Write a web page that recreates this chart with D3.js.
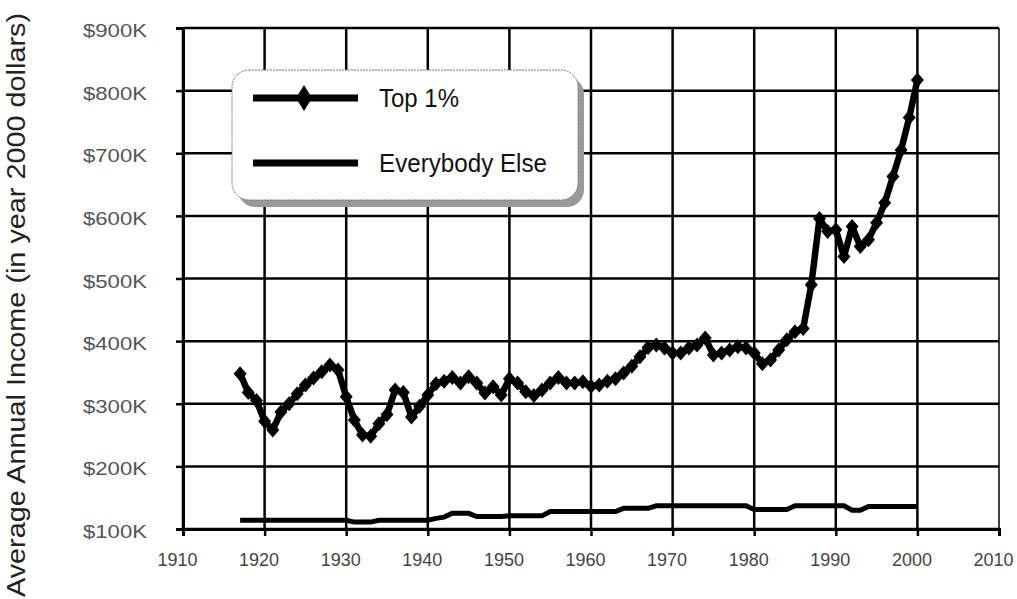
<!DOCTYPE html>
<html>
<head>
<meta charset="utf-8">
<script src="https://cdn.jsdelivr.net/npm/d3@7"></script>
<style>
  html, body { margin: 0; padding: 0; background: #fff; }
  svg { display: block; font-family: "Liberation Sans", Arial, sans-serif; }
</style>
</head>
<body>
<script>
const years = d3.range(1917, 2001);

// average income of the top 1%, thousands of 2000 dollars
const top1 = [
  348, 318, 305, 272, 258, 287, 300, 316, 330, 341, 351, 362, 354, 311,
  274, 250, 248, 268, 283, 322, 318, 279, 296, 314, 332, 336, 342, 333,
  343, 333, 317, 327, 314, 340, 333, 319, 313, 322, 333, 342, 333, 333,
  335, 328, 330, 336, 340, 349, 360, 375, 390, 394, 389, 381, 381, 389,
  394, 405, 378, 381, 386, 391, 389, 381, 364, 370, 386, 402, 415, 420,
  490, 596, 575, 578, 535, 583, 551, 562, 589, 621, 663, 705, 757, 817
];

// average income of everybody else
const others = [
  114, 114, 114, 114, 114, 114, 114, 114, 114, 114, 114, 114, 114, 114,
  111, 111, 111, 114, 114, 114, 114, 114, 114, 114, 117, 119, 125, 125,
  125, 120, 120, 120, 120, 121, 121, 121, 121, 121, 128, 128, 128, 128,
  128, 128, 128, 128, 128, 133, 133, 133, 133, 137, 137, 137, 137, 137,
  137, 137, 137, 137, 137, 137, 137, 131, 131, 131, 131, 131, 137, 137,
  137, 137, 137, 137, 137, 130, 130, 136, 136, 136, 136, 136, 136, 136
];

const xTicks = [1910, 1920, 1930, 1940, 1950, 1960, 1970, 1980, 1990, 2000, 2010];
const yTicks = [100, 200, 300, 400, 500, 600, 700, 800, 900];
const legendLabels = ["Top 1%", "Everybody Else"];
const yTitle = "Average Annual Income (in year 2000 dollars)";

const W = 1017, H = 599;
const plotLeft = 183, plotRight = 999, plotTop = 28, plotBottom = 529;

const svg = d3.select("body").append("svg")
  .attr("width", W)
  .attr("height", H);

const x = d3.scaleLinear().domain([1910, 2010]).range([plotLeft, plotRight]);
const y = d3.scaleLinear().domain([100, 900]).range([plotBottom, plotTop]);

// grid
svg.append("g")
  .selectAll("line")
  .data(yTicks)
  .join("line")
  .attr("x1", plotLeft).attr("x2", plotRight)
  .attr("y1", d => y(d)).attr("y2", d => y(d))
  .attr("stroke", "#000")
  .attr("stroke-width", 2.5);

svg.append("g")
  .selectAll("line")
  .data(xTicks)
  .join("line")
  .attr("x1", d => x(d)).attr("x2", d => x(d))
  .attr("y1", plotTop).attr("y2", plotBottom)
  .attr("stroke", "#000")
  .attr("stroke-width", d => d === 2010 ? 1.5 : 2.5);

// axes
const yAxis = svg.append("g")
  .attr("transform", `translate(${plotLeft},0)`)
  .call(d3.axisLeft(y).tickValues(yTicks).tickSize(7).tickPadding(29).tickFormat(d => `$${d}K`));

const xAxis = svg.append("g")
  .attr("transform", `translate(0,${plotBottom})`)
  .call(d3.axisBottom(x).tickValues(xTicks).tickSize(7).tickPadding(20).tickFormat(d3.format("d")));

[yAxis, xAxis].forEach(g => {
  g.select(".domain").attr("stroke", "#000").attr("stroke-width", 3);
  g.selectAll(".tick line").attr("stroke", "#000").attr("stroke-width", 2.5);
});

yAxis.selectAll("text")
  .attr("fill", "#555")
  .attr("dy", "0.45em")
  .style("font-size", "19px")
  .attr("textLength", 64)
  .attr("lengthAdjust", "spacingAndGlyphs");

xAxis.selectAll("text")
  .attr("fill", "#444")
  .attr("dx", -6)
  .attr("dy", "0.5em")
  .style("font-size", "19px")
  .attr("textLength", 40)
  .attr("lengthAdjust", "spacingAndGlyphs");

// y title
svg.append("text")
  .attr("transform", `translate(25,305) rotate(-90)`)
  .attr("text-anchor", "middle")
  .attr("fill", "#222")
  .style("font-size", "26px")
  .attr("textLength", 584)
  .attr("lengthAdjust", "spacingAndGlyphs")
  .text(yTitle);

// series
const line = d3.line()
  .x((d, i) => x(years[i]))
  .y(d => y(d));

svg.append("path")
  .datum(others)
  .attr("fill", "none")
  .attr("stroke", "#000")
  .attr("stroke-width", 5)
  .attr("d", line);

svg.append("path")
  .datum(top1)
  .attr("fill", "none")
  .attr("stroke", "#000")
  .attr("stroke-width", 6.5)
  .attr("stroke-linejoin", "round")
  .attr("d", line);

const diamond = (hw, hh) => `M0,${-hh}L${hw},0L0,${hh}L${-hw},0Z`;

svg.append("g")
  .selectAll("path")
  .data(top1)
  .join("path")
  .attr("transform", (d, i) => `translate(${x(years[i])},${y(d)})`)
  .attr("d", diamond(6.5, 7.5))
  .attr("fill", "#000");

// legend
const lg = svg.append("g");
lg.append("rect")
  .attr("x", 238).attr("y", 77)
  .attr("width", 346).attr("height", 130)
  .attr("rx", 17)
  .attr("fill", "#9a9a9a");
lg.append("rect")
  .attr("x", 232).attr("y", 70)
  .attr("width", 346).attr("height", 130)
  .attr("rx", 17)
  .attr("fill", "#fff")
  .attr("stroke", "#777")
  .attr("stroke-width", 1)
  .attr("stroke-dasharray", "2,1");

const rows = [98, 163];
legendLabels.forEach((label, i) => {
  lg.append("line")
    .attr("x1", 253).attr("x2", 358)
    .attr("y1", rows[i]).attr("y2", rows[i])
    .attr("stroke", "#000")
    .attr("stroke-width", 7);
  if (i === 0) {
    lg.append("path")
      .attr("transform", `translate(304,${rows[i]})`)
      .attr("d", diamond(8, 13))
      .attr("fill", "#000");
  }
  lg.append("text")
    .attr("x", 379)
    .attr("y", rows[i] + 9)
    .attr("fill", "#111")
    .style("font-size", "25px")
    .attr("textLength", i === 0 ? 80 : 168)
    .attr("lengthAdjust", "spacingAndGlyphs")
    .text(label);
});
</script>
</body>
</html>
